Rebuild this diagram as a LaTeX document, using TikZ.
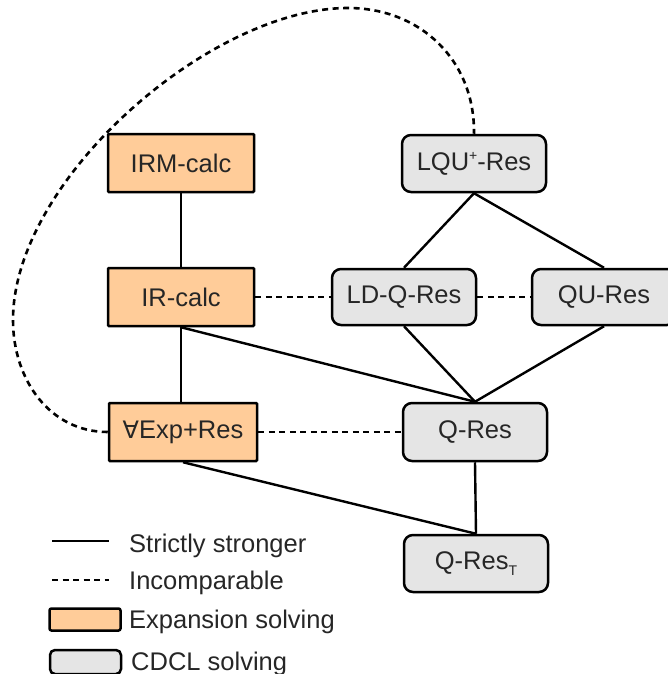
\documentclass[tikz,border=0pt]{standalone}
\usepackage{fontspec}
\setmainfont{Liberation Sans}
\newfontfamily\symbfont{DejaVu Sans}
\begin{document}
\begin{tikzpicture}[x=1pt,y=-1pt,
  every node/.style={text=black!85, font=\fontsize{25.5}{30}\selectfont},
  expbox/.style={draw=black, line width=2.5pt, fill=expfill,
                 minimum width=146pt, minimum height=58pt, inner sep=0pt, rounded corners=1pt},
  cdclbox/.style={draw=black, line width=2.5pt, fill=cdclfill,
                  minimum width=144pt, minimum height=57pt, inner sep=0pt, rounded corners=9pt},
  stronger/.style={line width=2.4pt, draw=black},
  incomp/.style={line width=2.6pt, draw=black, dash pattern=on 6pt off 4.5pt},
  legtext/.style={anchor=base west, inner sep=0pt}
]
\definecolor{expfill}{RGB}{255,204,153}
\definecolor{cdclfill}{RGB}{229,229,229}
\useasboundingbox (0,0) rectangle (668,674);

% expansion-based systems
\node[expbox] (irm) at (181,163) {IRM-calc};
\node[expbox] (ir)  at (181,297) {IR-calc};
\node[expbox, minimum width=148pt] (aexp) at (183,432) {{\symbfont\fontsize{24}{30}\selectfont ∀}Exp+Res};

% CDCL-based systems
\node[cdclbox] (lqu)  at (474,163.5) {LQU\raisebox{0.75ex}{\fontsize{14}{14}\selectfont +}-Res};
\node[cdclbox, minimum height=56pt] (ldq) at (404,297) {LD-Q-Res};
\node[cdclbox, minimum height=56pt] (qu)  at (604,297) {QU-Res};
\node[cdclbox, minimum height=58pt] (qres)  at (475,432) {Q-Res};
\node[cdclbox] (qrest) at (476,563.5) {Q-Res\raisebox{-0.45ex}{\fontsize{14}{14}\selectfont T}};

% strictly stronger
\draw[stronger] (irm.south) -- (ir.north);
\draw[stronger] (ir.south) -- (aexp.north -| ir.south);
\draw[stronger] (ir.south) -- (qres.north);
\draw[stronger] (lqu.south) -- (ldq.north);
\draw[stronger] (lqu.south) -- (qu.north);
\draw[stronger] (ldq.south) -- (qres.north);
\draw[stronger] (qu.south) -- (qres.north);
\draw[stronger] (qres.south) -- (qrest.north);
\draw[stronger] (aexp.south) -- (qrest.north);

% incomparable
\draw[incomp] (ir.east) -- (ldq.west);
\draw[incomp] (ldq.east) -- (qu.west);
\draw[incomp] (aexp.east) -- (qres.west);
\draw[incomp] (aexp.west) .. controls (50,432) and (13,380) .. (13,320)
  .. controls (13,180) and (210,8) .. (348,8)
  .. controls (420,8) and (475,60) .. (lqu.north);

% legend
\coordinate (s1) at (52,541);  \coordinate (s2) at (109,541);
\coordinate (d1) at (52,580);  \coordinate (d2) at (109,580);
\draw[stronger] (s1) -- (s2);
\draw[incomp] (d1) -- (d2);
\node[legtext] (lt1) at (129,552) {Strictly stronger};
\node[legtext] (lt2) at (129,589) {Incomparable};
\node[draw=black, line width=2.5pt, fill=expfill, minimum width=71pt, minimum height=22pt,
      inner sep=0pt, rounded corners=2pt] (lb1) at (85,619.5) {};
\node[legtext] (lt3) at (129,628) {Expansion solving};
\node[draw=black, line width=2.5pt, fill=cdclfill, minimum width=71pt, minimum height=24pt,
      inner sep=0pt, rounded corners=5pt] (lb2) at (85.5,662) {};
\node[legtext] (lt4) at (131,670.5) {CDCL solving};
\end{tikzpicture}
\end{document}
